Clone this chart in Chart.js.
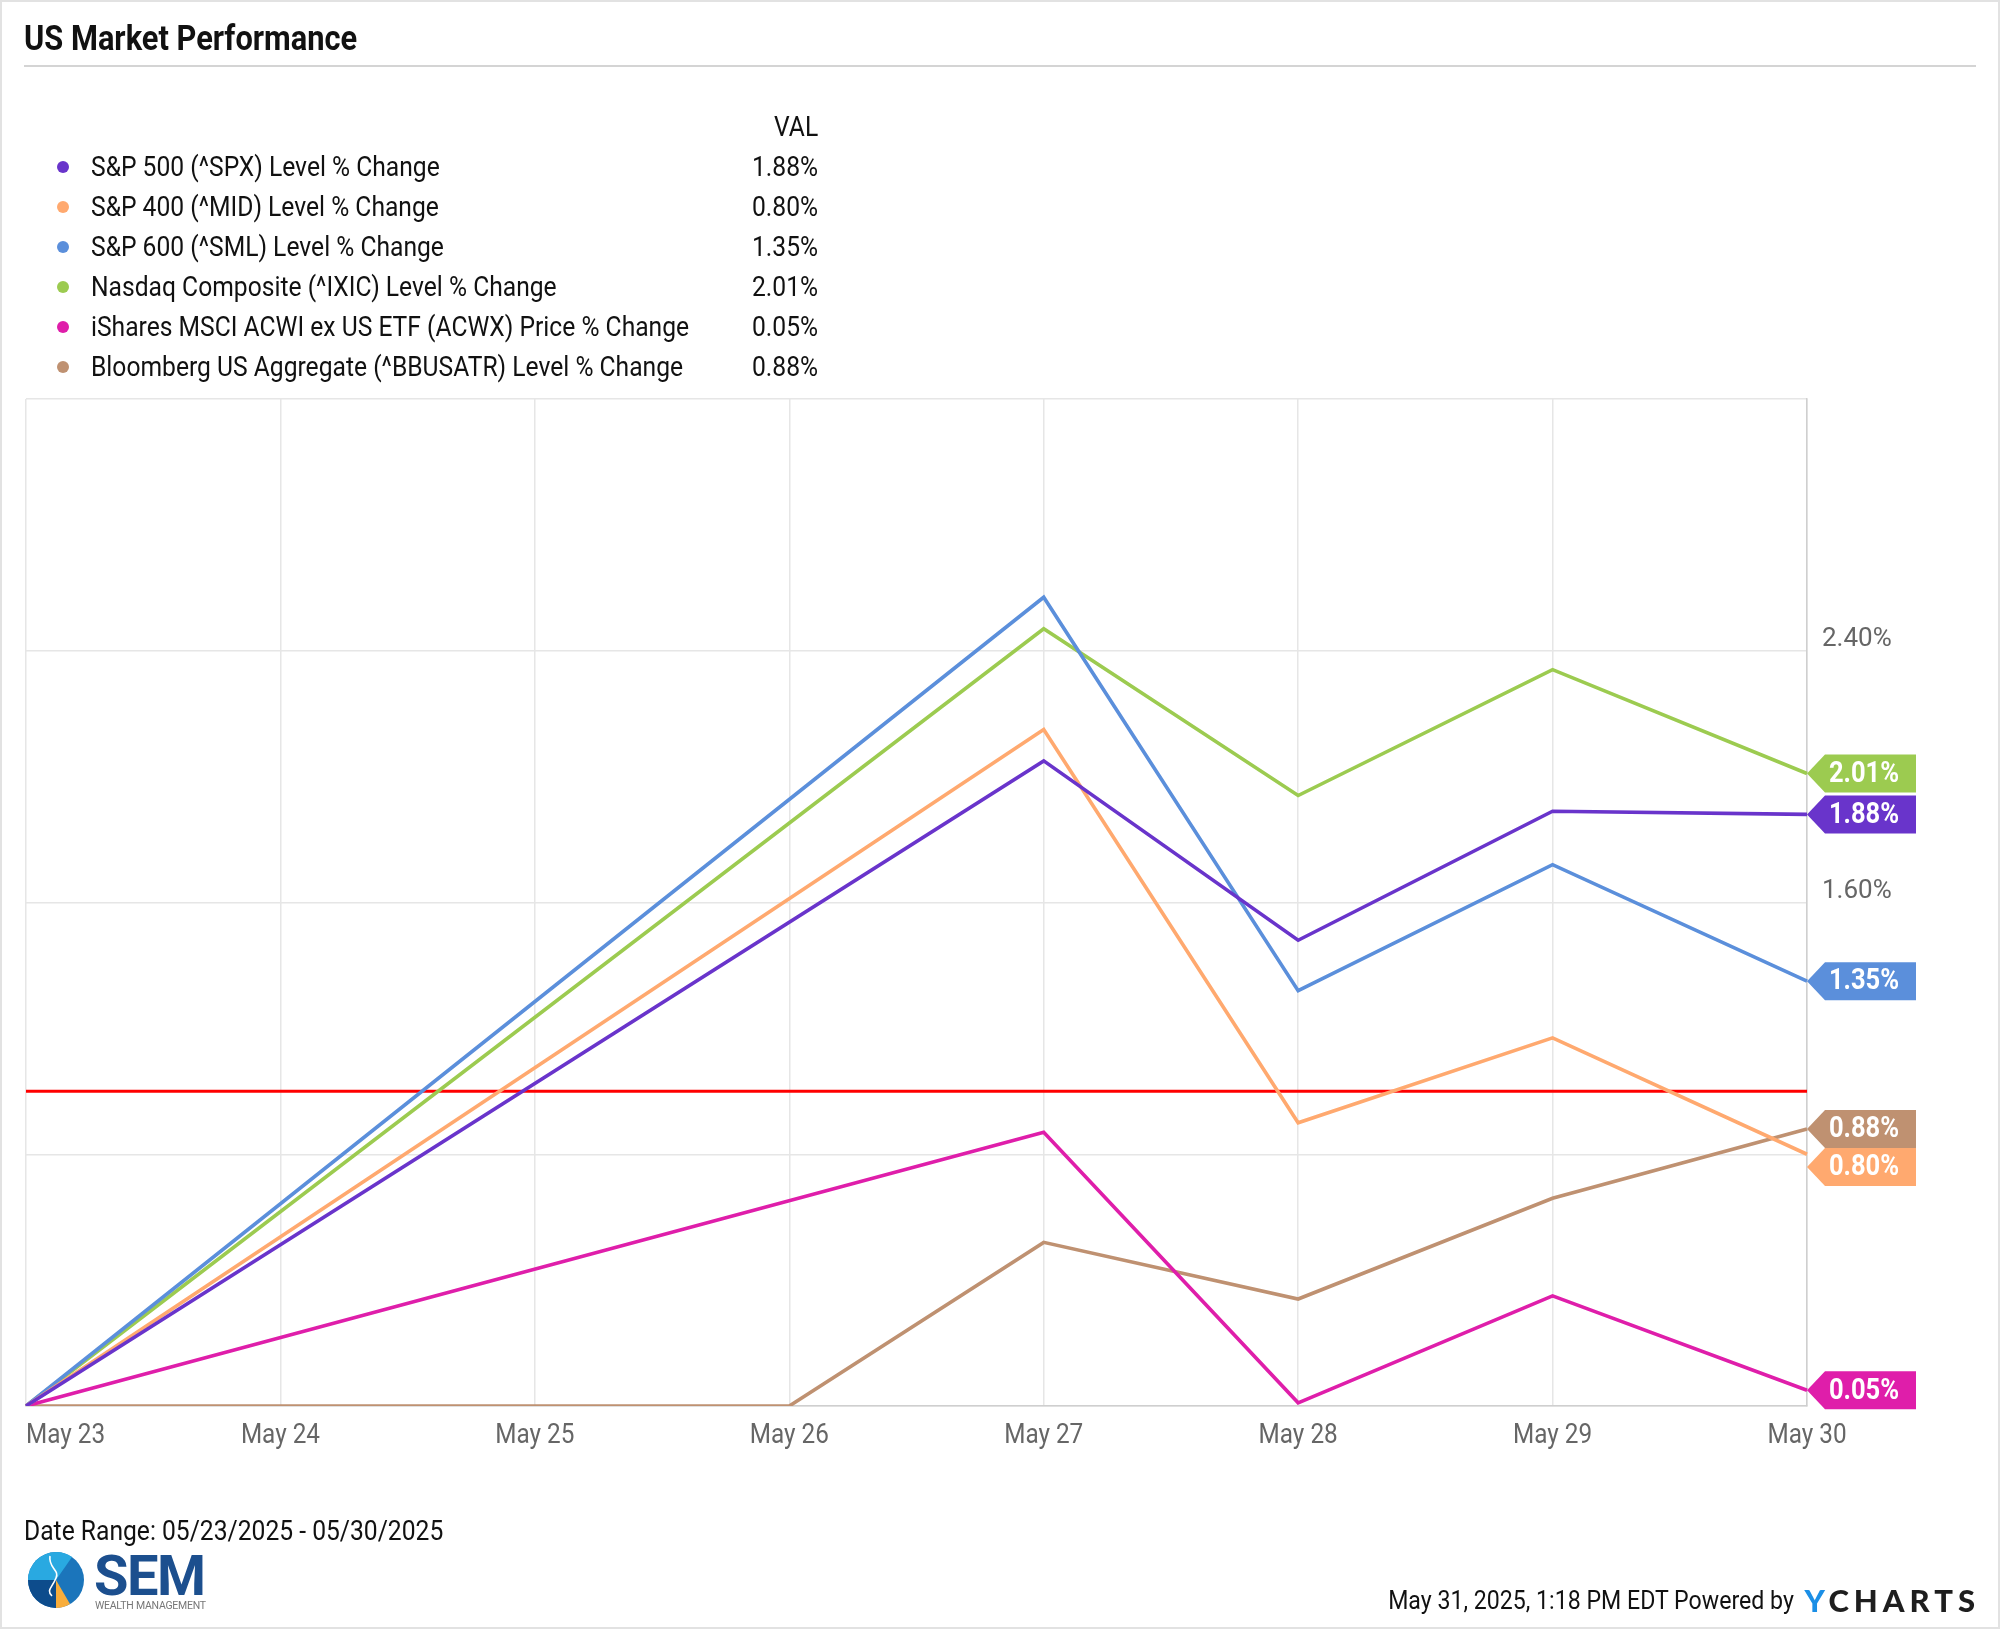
<!DOCTYPE html>
<html>
<head>
<meta charset="utf-8">
<script src="https://cdn.jsdelivr.net/npm/chart.js@4.4.1/dist/chart.umd.min.js"></script>
<style>
  html, body { margin: 0; padding: 0; background: #fff; }
  #page { position: relative; width: 2000px; height: 1629px; border: 2px solid #e2e2e2; box-sizing: border-box; overflow: hidden; font-family: Roboto, "Noto Sans", sans-serif; color: #111; }
  #chart { position: absolute; left: 0; top: 0; }
  .cond { display: inline-block; transform: scaleX(0.88); transform-origin: left center; white-space: nowrap; }
  .cond.r { transform-origin: right center; }
  #title { position: absolute; left: 22px; top: 15px; font-size: 35px; font-weight: 700; line-height: 44px; }
  #rule { position: absolute; left: 22px; right: 22px; top: 63px; height: 2px; background: #d4d4d4; }
  #legend { position: absolute; left: 0; top: 105px; width: 830px; font-size: 28px; }
  #legend .row { position: relative; height: 40px; line-height: 40px; }
  #legend .dot { position: absolute; left: 55px; top: 14px; width: 12px; height: 12px; border-radius: 50%; }
  #legend .lbl { position: absolute; left: 89px; top: 0; }
  #legend .val { position: absolute; right: 14px; top: 0; text-align: right; }
  #range { position: absolute; left: 22px; top: 1509px; font-size: 28px; line-height: 40px; }
  #logo { position: absolute; left: 24px; top: 1546px; }
  #stamp { position: absolute; right: 204px; top: 1578px; font-size: 26px; line-height: 40px; text-align: right; }
  #stamp .cond { transform: scaleX(0.89); }
  #ych { position: absolute; right: 18px; top: 1578px; font-family: Lato, Roboto, sans-serif; font-weight: 900; font-size: 31px; line-height: 40px; letter-spacing: 5px; color: #1e1e1e; }
  #ych b { color: #1b8fe6; }
</style>
</head>
<body>
<div id="page">
  <canvas id="chart" width="2000" height="1629"></canvas>
  <div id="title"><span class="cond">US Market Performance</span></div>
  <div id="rule"></div>
  <div id="legend"></div>
  <div id="range"><span class="cond">Date Range: 05/23/2025 - 05/30/2025</span></div>
  <svg id="logo" width="190" height="64" viewBox="0 0 190 64">
    <circle cx="30" cy="32" r="28" fill="#1b75bb"/>
    <path d="M30 32 L2 32 A28 28 0 0 1 30 4 Z" fill="#29a9e1"/>
    <path d="M30 32 L30 4 A28 28 0 0 1 46 9 Z" fill="#29a9e1"/>
    <path d="M30 32 L2 32 A28 28 0 0 0 30 60 Z" fill="#0d4c8c"/>
    <path d="M30 32 L30 60 A28 28 0 0 0 44 56 Z" fill="#f8ad3b"/>
    <path d="M24 8 C22 20 34 22 30 30 C26 40 20 42 26 48" fill="none" stroke="#fff" stroke-width="1.6"/>
    <text x="68" y="47" font-family="Roboto, sans-serif" font-weight="700" font-size="56" fill="#1c4f8e" textLength="112">SEM</text>
    <text x="69" y="61" font-family="Roboto, sans-serif" font-size="10.5" fill="#777" textLength="111">WEALTH MANAGEMENT</text>
  </svg>
  <div id="stamp"><span class="cond r">May 31, 2025, 1:18 PM EDT Powered by</span></div>
  <div id="ych"><b>Y</b>CHARTS</div>
</div>
<script>
// Dates on the x axis (weekend + Memorial Day have no prices)
const dates = ['May 23', 'May 24', 'May 25', 'May 26', 'May 27', 'May 28', 'May 29', 'May 30'];

// % change series
const spx  = [0, null, null, null, 2.05, 1.48, 1.89, 1.88];
const mid  = [0, null, null, null, 2.15, 0.90, 1.17, 0.80];
const sml  = [0, null, null, null, 2.57, 1.32, 1.72, 1.35];
const ixic = [0, null, null, null, 2.47, 1.94, 2.34, 2.01];
const acwx = [0, null, null, null, 0.87, 0.01, 0.35, 0.05];
const agg  = [0, null, null, 0,    0.52, 0.34, 0.66, 0.88];

const seriesNames = [
  'S&P 500 (^SPX) Level % Change',
  'S&P 400 (^MID) Level % Change',
  'S&P 600 (^SML) Level % Change',
  'Nasdaq Composite (^IXIC) Level % Change',
  'iShares MSCI ACWI ex US ETF (ACWX) Price % Change',
  'Bloomberg US Aggregate (^BBUSATR) Level % Change'
];
const seriesColors = ['#6934cb', '#ffa96f', '#5b8fdb', '#9ccb50', '#df1eaa', '#bf9171'];
const seriesData = [spx, mid, sml, ixic, acwx, agg];

// y axis
const yMin = 0;
const yMax = 3.2;
const yStep = 0.8;
const yLabelValues = [1.6, 2.4];
const refLevel = 1.0;

// Legend (HTML)
const legend = document.getElementById('legend');
legend.innerHTML = '<div class="row"><span class="val"><span class="cond r">VAL</span></span></div>';
seriesNames.forEach((name, i) => {
  const last = seriesData[i][seriesData[i].length - 1];
  const row = document.createElement('div');
  row.className = 'row';
  row.innerHTML = '<span class="dot" style="background:' + seriesColors[i] + '"></span>' +
    '<span class="lbl"><span class="cond"></span></span>' +
    '<span class="val"><span class="cond r">' + last.toFixed(2) + '%</span></span>';
  row.querySelector('.lbl .cond').textContent = name;
  legend.appendChild(row);
});

// Red reference line
const refLinePlugin = {
  id: 'refLine',
  beforeDatasetsDraw(chart) {
    const { ctx, chartArea, scales } = chart;
    const y = scales.y.getPixelForValue(refLevel);
    ctx.save();
    ctx.strokeStyle = '#ff0000';
    ctx.lineWidth = 3;
    ctx.beginPath();
    ctx.moveTo(chartArea.left, y);
    ctx.lineTo(chartArea.right, y);
    ctx.stroke();
    ctx.restore();
  }
};

// x labels: first one starts at the axis, the rest centred
const xLabelPlugin = {
  id: 'xLabels',
  afterDraw(chart) {
    const { ctx, chartArea, scales } = chart;
    ctx.save();
    ctx.fillStyle = '#666';
    ctx.font = '27px Roboto, sans-serif';
    ctx.textBaseline = 'middle';
    dates.forEach((d, i) => {
      const x = scales.x.getPixelForValue(i);
      ctx.save();
      ctx.translate(x, chartArea.bottom + 30);
      ctx.scale(0.9, 1);
      ctx.textAlign = i === 0 ? 'left' : 'center';
      ctx.fillText(d, 0, 0);
      ctx.restore();
    });
    ctx.restore();
  }
};

// End-of-line value tags on the right
const endTagPlugin = {
  id: 'endTags',
  afterDraw(chart) {
    const { ctx, chartArea, scales } = chart;
    const tagH = 38;
    const tags = chart.data.datasets.map((ds) => {
      const v = ds.data[ds.data.length - 1];
      return { v: v, y: scales.y.getPixelForValue(v), color: ds.borderColor };
    }).sort((a, b) => a.y - b.y);
    for (let i = 1; i < tags.length; i++) {
      if (tags[i].y < tags[i - 1].y + tagH) tags[i].y = tags[i - 1].y + tagH;
    }
    const x0 = chartArea.right;
    tags.forEach((t) => {
      ctx.save();
      ctx.fillStyle = t.color;
      ctx.beginPath();
      ctx.moveTo(x0, t.y);
      ctx.lineTo(x0 + 18, t.y - tagH / 2);
      ctx.lineTo(x0 + 109, t.y - tagH / 2);
      ctx.lineTo(x0 + 109, t.y + tagH / 2);
      ctx.lineTo(x0 + 18, t.y + tagH / 2);
      ctx.closePath();
      ctx.fill();
      ctx.fillStyle = '#fff';
      ctx.font = 'bold 29px Roboto, sans-serif';
      ctx.textAlign = 'center';
      ctx.textBaseline = 'middle';
      ctx.translate(x0 + 57, t.y + 1);
      ctx.scale(0.88, 1);
      ctx.fillText(t.v.toFixed(2) + '%', 0, 0);
      ctx.restore();
    });
  }
};

const ctx = document.getElementById('chart').getContext('2d');
new Chart(ctx, {
  type: 'line',
  data: {
    labels: dates,
    datasets: seriesData.map((data, i) => ({
      label: seriesNames[i],
      data: data,
      borderColor: seriesColors[i],
      backgroundColor: seriesColors[i],
      borderWidth: 3.6,
      pointRadius: 0,
      tension: 0,
      spanGaps: true,
      fill: false
    }))
  },
  options: {
    responsive: false,
    animation: false,
    devicePixelRatio: 1,
    layout: { padding: { left: 24, top: 397, right: 0, bottom: 0 } },
    plugins: {
      legend: { display: false },
      tooltip: { enabled: false }
    },
    scales: {
      x: {
        offset: false,
        grid: { color: '#e6e6e6', lineWidth: 1.5, drawTicks: false },
        border: { display: true, color: '#cfcfcf', width: 1.5 },
        ticks: { display: false },
        afterFit(scale) { scale.height = 225; }
      },
      y: {
        position: 'right',
        min: yMin,
        max: yMax,
        grid: { color: '#e6e6e6', lineWidth: 1.5, drawTicks: false },
        border: { display: true, color: '#cfcfcf', width: 1.5 },
        ticks: {
          stepSize: yStep,
          padding: 15,
          labelOffset: -11,
          color: '#666',
          font: { family: 'Roboto', size: 26 },
          callback(value) {
            const show = yLabelValues.some((v) => Math.abs(v - value) < 1e-6);
            return show ? value.toFixed(2) + '%' : '';
          }
        },
        afterFit(scale) { scale.width = 195; }
      }
    }
  },
  plugins: [refLinePlugin, xLabelPlugin, endTagPlugin]
});
</script>
</body>
</html>
